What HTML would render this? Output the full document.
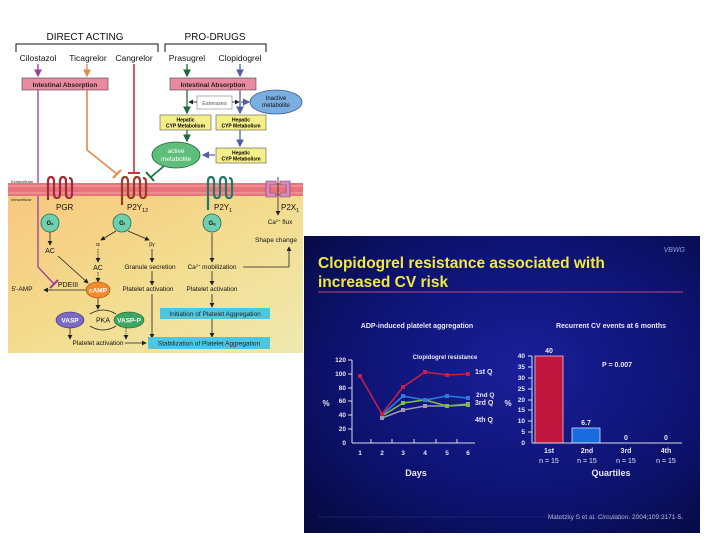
<!DOCTYPE html>
<html><head><meta charset="utf-8"><style>
html,body{margin:0;padding:0;background:#fff;width:720px;height:540px;overflow:hidden}
svg{display:block;font-family:"Liberation Sans",Arial,sans-serif}
</style></head><body>
<svg width="720" height="540" viewBox="0 0 720 540" xmlns="http://www.w3.org/2000/svg">
<defs>
<linearGradient id="beige" x1="0" y1="0" x2="1" y2="1">
<stop offset="0" stop-color="#f7c77e"/><stop offset="0.5" stop-color="#f3dc8e"/><stop offset="1" stop-color="#eee9b0"/>
</linearGradient>
<radialGradient id="navy" cx="0.55" cy="0.45" r="0.75">
<stop offset="0" stop-color="#1a1f9a"/><stop offset="0.6" stop-color="#0d1270"/><stop offset="1" stop-color="#060a40"/>
</radialGradient>
<marker id="ak" markerWidth="6" markerHeight="6" refX="5" refY="3" orient="auto"><path d="M0,0L6,3L0,6z" fill="#222"/></marker>
<marker id="ap" markerWidth="6" markerHeight="6" refX="5" refY="3" orient="auto"><path d="M0,0L6,3L0,6z" fill="#9b3c9b"/></marker>
<marker id="ao" markerWidth="6" markerHeight="6" refX="5" refY="3" orient="auto"><path d="M0,0L6,3L0,6z" fill="#e4894a"/></marker>
<marker id="ag" markerWidth="6" markerHeight="6" refX="5" refY="3" orient="auto"><path d="M0,0L6,3L0,6z" fill="#1e6a3a"/></marker>
<marker id="ab" markerWidth="6" markerHeight="6" refX="5" refY="3" orient="auto"><path d="M0,0L6,3L0,6z" fill="#5060a8"/></marker>
</defs>

<!-- LEFT PANEL -->
<rect x="8" y="190" width="295" height="163" fill="url(#beige)"/>
<g font-size="9" fill="#111">
<text x="85" y="40" text-anchor="middle" font-size="10">DIRECT ACTING</text>
<text x="215" y="40" text-anchor="middle" font-size="10">PRO-DRUGS</text>
<path d="M16,52V44H158V52M165,52V44H266V52" fill="none" stroke="#111" stroke-width="1"/>
<text x="38" y="61" text-anchor="middle" font-size="8.5">Cilostazol</text>
<text x="88" y="61" text-anchor="middle" font-size="8.5">Ticagrelor</text>
<text x="134" y="61" text-anchor="middle" font-size="8.5">Cangrelor</text>
<text x="187" y="61" text-anchor="middle" font-size="8.5">Prasugrel</text>
<text x="240" y="61" text-anchor="middle" font-size="8.5">Clopidogrel</text>
</g>
<line x1="38" y1="64" x2="38" y2="76" stroke="#9b3c9b" stroke-width="1.3" marker-end="url(#ap)"/>
<line x1="87" y1="64" x2="87" y2="76" stroke="#e4894a" stroke-width="1.3" marker-end="url(#ao)"/>
<line x1="187" y1="64" x2="187" y2="76" stroke="#1e6a3a" stroke-width="1.3" marker-end="url(#ag)"/>
<line x1="240" y1="64" x2="240" y2="76" stroke="#5060a8" stroke-width="1.3" marker-end="url(#ab)"/>
<rect x="22" y="78" width="86" height="12" fill="#e98aa0" stroke="#444" stroke-width="0.6"/>
<rect x="170" y="78" width="86" height="12" fill="#e98aa0" stroke="#444" stroke-width="0.6"/>
<text x="65" y="87" text-anchor="middle" font-size="6.5" font-weight="bold" fill="#222">Intestinal Absorption</text>
<text x="213" y="87" text-anchor="middle" font-size="6.5" font-weight="bold" fill="#222">Intestinal Absorption</text>
<!-- cangrelor red -->
<line x1="134" y1="64" x2="134" y2="172" stroke="#c8373c" stroke-width="1.6"/>
<line x1="128" y1="173" x2="140" y2="173" stroke="#c8373c" stroke-width="2"/>
<!-- ticagrelor orange -->
<path d="M87,90V150L117,174" fill="none" stroke="#e4894a" stroke-width="1.6"/>
<line x1="113" y1="178" x2="121" y2="170" stroke="#e4894a" stroke-width="2"/>
<!-- cilostazol purple -->
<path d="M38,90V267L54,284" fill="none" stroke="#9b3c9b" stroke-width="1.3"/>
<line x1="50" y1="288" x2="58" y2="280" stroke="#9b3c9b" stroke-width="2"/>
<!-- prodrugs -->
<line x1="187" y1="90" x2="187" y2="113" stroke="#1e6a3a" stroke-width="1.3" marker-end="url(#ag)"/>
<line x1="240" y1="90" x2="240" y2="113" stroke="#5060a8" stroke-width="1.3" marker-end="url(#ab)"/>
<rect x="197" y="96" width="35" height="13" fill="#fff" stroke="#666" stroke-width="0.5"/>
<text x="214.5" y="105" text-anchor="middle" font-size="5.5" fill="#555">Esterases</text>
<line x1="197" y1="102" x2="189" y2="102" stroke="#222" stroke-width="0.8" marker-end="url(#ak)"/>
<line x1="232" y1="102" x2="239" y2="102" stroke="#222" stroke-width="0.8" marker-end="url(#ak)"/>
<line x1="241" y1="102" x2="249" y2="102" stroke="#5060a8" stroke-width="1.2" marker-end="url(#ab)"/>
<ellipse cx="276" cy="102" rx="26" ry="12" fill="#7aaee0" stroke="#3a5a9a" stroke-width="0.8"/>
<text x="276" y="100" text-anchor="middle" font-size="6" fill="#111">Inactive</text>
<text x="276" y="107" text-anchor="middle" font-size="6" fill="#111">metabolite</text>
<rect x="160" y="115" width="51" height="15" fill="#f5ef8a" stroke="#555" stroke-width="0.6"/>
<rect x="216" y="115" width="50" height="15" fill="#f5ef8a" stroke="#555" stroke-width="0.6"/>
<text x="185.5" y="121.5" text-anchor="middle" font-size="5" font-weight="bold">Hepatic</text>
<text x="185.5" y="127.5" text-anchor="middle" font-size="5" font-weight="bold">CYP Metabolism</text>
<text x="241" y="121.5" text-anchor="middle" font-size="5" font-weight="bold">Hepatic</text>
<text x="241" y="127.5" text-anchor="middle" font-size="5" font-weight="bold">CYP Metabolism</text>
<line x1="187" y1="130" x2="187" y2="141" stroke="#1e6a3a" stroke-width="1.3" marker-end="url(#ag)"/>
<line x1="240" y1="130" x2="240" y2="146" stroke="#5060a8" stroke-width="1.3" marker-end="url(#ab)"/>
<rect x="216" y="148" width="50" height="15" fill="#f5ef8a" stroke="#555" stroke-width="0.6"/>
<text x="241" y="154.5" text-anchor="middle" font-size="5" font-weight="bold">Hepatic</text>
<text x="241" y="160.5" text-anchor="middle" font-size="5" font-weight="bold">CYP Metabolism</text>
<line x1="215" y1="155" x2="203" y2="155" stroke="#5060a8" stroke-width="1.2" marker-end="url(#ab)"/>
<ellipse cx="176" cy="155" rx="24" ry="13" fill="#5fbf7a" stroke="#1e6a3a" stroke-width="0.8"/>
<text x="176" y="153" text-anchor="middle" font-size="6.5" fill="#fff">active</text>
<text x="176" y="161" text-anchor="middle" font-size="6.5" fill="#fff">metabolite</text>
<line x1="164" y1="166" x2="151" y2="177" stroke="#1e6a3a" stroke-width="1.6"/>
<line x1="146" y1="172" x2="154" y2="181" stroke="#1e6a3a" stroke-width="2"/>
<!-- membrane -->
<rect x="8" y="183" width="295" height="13" fill="#e8737a"/>
<line x1="8" y1="186" x2="303" y2="186" stroke="#f4a9aa" stroke-width="1"/>
<line x1="8" y1="193" x2="303" y2="193" stroke="#f4a9aa" stroke-width="1"/>
<text x="11" y="183" font-size="4" fill="#222">Extracellular</text>
<text x="11" y="201" font-size="4" fill="#222">Intracellular</text>
<!-- receptors -->
<g fill="none" stroke-width="2.2">
<path d="M48,200V182q0,-5 3,-5t3,5v12q0,4 3,4t3,-4V182q0,-5 3,-5t3,5v12q0,4 3,4t3,-4V182q0,-4 -3,-4" stroke="#a02a3a"/>
<path d="M122,205V182q0,-5 3,-5t3,5v12q0,4 3,4t3,-4V182q0,-5 3,-5t3,5v12q0,4 3,4t3,-4V182q0,-4 -3,-4" stroke="#9a3a2a"/>
<path d="M208,210V182q0,-5 3,-5t3,5v12q0,4 3,4t3,-4V182q0,-5 3,-5t3,5v12q0,4 3,4t3,-4V182q0,-4 -3,-4" stroke="#1f7a6a"/>
</g>
<path d="M266,181h10v4h-6v8h6v4h-10z M290,181h-10v4h6v8h-6v4h10z" fill="#d78ac0" stroke="#7a3a6a" stroke-width="0.6"/>
<line x1="278" y1="177" x2="278" y2="215" stroke="#222" stroke-width="0.8" marker-end="url(#ak)"/>
<g font-size="8" fill="#111">
<text x="56" y="210">PGR</text>
<text x="127" y="210">P2Y<tspan font-size="5.5" dy="2">12</tspan></text>
<text x="214" y="210">P2Y<tspan font-size="5.5" dy="2">1</tspan></text>
<text x="281" y="210">P2X<tspan font-size="5.5" dy="2">1</tspan></text>
</g>
<g fill="#6fd0b0" stroke="#1f6a5a" stroke-width="0.8">
<circle cx="50" cy="223" r="9"/><circle cx="122" cy="223" r="9"/><circle cx="212" cy="223" r="9"/>
</g>
<g font-size="6" font-weight="bold" fill="#111" text-anchor="middle">
<text x="50" y="225">G<tspan font-size="4">s</tspan></text>
<text x="122" y="225">G<tspan font-size="4">i</tspan></text>
<text x="212" y="225">G<tspan font-size="4">q</tspan></text>
</g>
<g font-size="6.5" fill="#111" text-anchor="middle">
<text x="280" y="224">Ca<tspan font-size="4" dy="-2">2+</tspan><tspan dy="2"> flux</tspan></text>
<text x="276" y="242">Shape change</text>
<text x="50" y="253" font-size="7">AC</text>
<text x="98" y="246" font-size="5">α<tspan font-size="3.5">i</tspan></text>
<text x="98" y="270" font-size="7">AC</text>
<text x="152" y="246" font-size="5">βγ</text>
<text x="150" y="269">Granule secretion</text>
<text x="212" y="269">Ca<tspan font-size="4" dy="-2">2+</tspan><tspan dy="2"> mobilization</tspan></text>
<text x="68" y="287" font-size="7">PDEIII</text>
<text x="22" y="291">5'-AMP</text>
<text x="148" y="291">Platelet activation</text>
<text x="212" y="291">Platelet activation</text>
<text x="98" y="345">Platelet activation</text>
</g>
<g stroke="#222" stroke-width="0.8" fill="none">
<line x1="50" y1="232" x2="50" y2="245" marker-end="url(#ak)"/>
<line x1="58" y1="256" x2="88" y2="283" marker-end="url(#ak)"/>
<line x1="116" y1="231" x2="101" y2="240" marker-end="url(#ak)"/>
<line x1="128" y1="231" x2="149" y2="240" marker-end="url(#ak)"/>
<line x1="98" y1="249" x2="98" y2="262" stroke-dasharray="1.5,1" marker-end="url(#ak)"/>
<line x1="98" y1="272" x2="98" y2="282" stroke-dasharray="1.5,1" marker-end="url(#ak)"/>
<line x1="152" y1="249" x2="152" y2="262" marker-end="url(#ak)"/>
<line x1="152" y1="271" x2="152" y2="285" marker-end="url(#ak)"/>
<line x1="152" y1="294" x2="152" y2="338" marker-end="url(#ak)"/>
<line x1="212" y1="233" x2="212" y2="262" marker-end="url(#ak)"/>
<line x1="212" y1="271" x2="212" y2="285" marker-end="url(#ak)"/>
<line x1="212" y1="294" x2="212" y2="307" marker-end="url(#ak)"/>
<line x1="212" y1="319" x2="212" y2="337" marker-end="url(#ak)"/>
<path d="M243,267H289V247" marker-end="url(#ak)"/>
<line x1="86" y1="290" x2="44" y2="290" marker-end="url(#ak)"/>
<line x1="98" y1="297" x2="98" y2="309" marker-end="url(#ak)"/>
<line x1="70" y1="328" x2="70" y2="339" marker-end="url(#ak)"/>
<line x1="126" y1="328" x2="126" y2="339" stroke-dasharray="1.5,1" marker-end="url(#ak)"/>
<line x1="125" y1="343" x2="146" y2="343" marker-end="url(#ak)"/>
<path d="M90,314q13,-8 26,0M116,326q-13,8 -26,0"/>
</g>
<ellipse cx="98" cy="290" rx="12" ry="8" fill="#f08a2a" stroke="#a04a10" stroke-width="0.6"/>
<text x="98" y="292.5" text-anchor="middle" font-size="6.5" fill="#fff" font-weight="bold">cAMP</text>
<ellipse cx="70" cy="320" rx="14" ry="8" fill="#7a6ac0" stroke="#3a2a80" stroke-width="0.6"/>
<text x="70" y="322.5" text-anchor="middle" font-size="6.5" fill="#fff" font-weight="bold">VASP</text>
<text x="103" y="322.5" text-anchor="middle" font-size="7" fill="#111">PKA</text>
<ellipse cx="129" cy="320" rx="15" ry="8" fill="#3aa860" stroke="#1a5a30" stroke-width="0.6"/>
<text x="129" y="322.5" text-anchor="middle" font-size="6.5" fill="#fff" font-weight="bold">VASP-P</text>
<rect x="160" y="308" width="110" height="11" fill="#4fc6e0"/>
<text x="215" y="316" text-anchor="middle" font-size="6.5" fill="#222">Initiation of Platelet Aggregation</text>
<rect x="148" y="337" width="122" height="12" fill="#4fc6e0"/>
<text x="209" y="345.5" text-anchor="middle" font-size="6.5" fill="#222">Stabilization of Platelet Aggregation</text>

<!-- RIGHT PANEL -->
<rect x="304" y="236" width="396" height="297" fill="url(#navy)"/>
<text x="685" y="252" text-anchor="end" font-size="7" font-style="italic" fill="#8fa0e0">VBWG</text>
<g font-size="15.5" font-weight="bold" fill="#f2ea3a">
<text x="318" y="268">Clopidogrel resistance associated with</text>
<text x="318" y="287">increased CV risk</text>
</g>
<line x1="318" y1="292" x2="683" y2="292" stroke="#a03a7a" stroke-width="1.2"/>
<g fill="#e8e8f0" font-size="7" font-weight="bold">
<text x="417" y="328" text-anchor="middle">ADP-induced platelet aggregation</text>
<text x="611" y="328" text-anchor="middle">Recurrent CV events at 6 months</text>
</g>
<!-- line chart -->
<g stroke="#ddd" stroke-width="1">
<line x1="352" y1="360" x2="352" y2="443"/>
<line x1="352" y1="443" x2="475" y2="443"/>
<line x1="348" y1="360" x2="352" y2="360"/><line x1="348" y1="374" x2="352" y2="374"/>
<line x1="348" y1="388" x2="352" y2="388"/><line x1="348" y1="401" x2="352" y2="401"/>
<line x1="348" y1="415" x2="352" y2="415"/><line x1="348" y1="429" x2="352" y2="429"/>
<line x1="371" y1="443" x2="371" y2="439"/><line x1="392" y1="443" x2="392" y2="439"/>
<line x1="414" y1="443" x2="414" y2="439"/><line x1="436" y1="443" x2="436" y2="439"/>
<line x1="457" y1="443" x2="457" y2="439"/>
</g>
<g fill="#e8e8f0" font-size="6.5" font-weight="bold" text-anchor="end">
<text x="346" y="362">120</text><text x="346" y="376">100</text><text x="346" y="390">80</text>
<text x="346" y="403">60</text><text x="346" y="417">40</text><text x="346" y="431">20</text><text x="346" y="445">0</text>
</g>
<g fill="#e8e8f0" font-size="6.5" font-weight="bold" text-anchor="middle">
<text x="360" y="455">1</text><text x="382" y="455">2</text><text x="403" y="455">3</text>
<text x="425" y="455">4</text><text x="447" y="455">5</text><text x="468" y="455">6</text>
<text x="416" y="476" font-size="9">Days</text>
<text x="326" y="406" font-size="8">%</text>
<text x="445" y="359" font-size="6">Clopidogrel resistance</text>
</g>
<g fill="#e8e8f0" font-size="7" font-weight="bold">
<text x="475" y="374">1st Q</text><text x="476" y="397" font-size="6.5">2nd Q</text>
<text x="475" y="405">3rd Q</text><text x="475" y="422">4th Q</text>
</g>
<g fill="none" stroke-width="1.6">
<polyline points="382,418 403,410 425,406 447,406 468,404" stroke="#9a9ab0"/>
<polyline points="382,416 403,403 425,400 447,406 468,405" stroke="#7ac040"/>
<polyline points="382,415 403,396 425,400 447,396 468,398" stroke="#2a7ae0"/>
<polyline points="360,376 382,414 403,387 425,372 447,375 468,374" stroke="#c0204a"/>
</g>
<g fill="#9a9ab0"><rect x="380" y="416" width="4" height="4"/><rect x="401" y="408" width="4" height="4"/><rect x="423" y="404" width="4" height="4"/><rect x="445" y="404" width="4" height="4"/><rect x="466" y="402" width="4" height="4"/></g>
<g fill="#7ac040"><rect x="401" y="401" width="4" height="4"/><rect x="445" y="404" width="4" height="4"/><rect x="466" y="403" width="4" height="4"/></g>
<g fill="#2a7ae0"><rect x="401" y="394" width="4" height="4"/><rect x="423" y="398" width="4" height="4"/><rect x="445" y="394" width="4" height="4"/><rect x="466" y="396" width="4" height="4"/></g>
<g fill="#c0204a"><rect x="358" y="374" width="4" height="4"/><rect x="380" y="412" width="4" height="4"/><rect x="401" y="385" width="4" height="4"/><rect x="423" y="370" width="4" height="4"/><rect x="445" y="373" width="4" height="4"/><rect x="466" y="372" width="4" height="4"/></g>
<!-- bar chart -->
<rect x="535" y="356" width="28" height="87" fill="#c0163e" stroke="#f0c0d0" stroke-width="0.8"/>
<rect x="572" y="428" width="28" height="15" fill="#1a6ae0" stroke="#d0e0ff" stroke-width="0.8"/>
<g stroke="#ddd" stroke-width="1">
<line x1="532" y1="356" x2="532" y2="443"/><line x1="532" y1="443" x2="682" y2="443"/>
<line x1="528" y1="356" x2="532" y2="356"/><line x1="528" y1="367" x2="532" y2="367"/>
<line x1="528" y1="378" x2="532" y2="378"/><line x1="528" y1="389" x2="532" y2="389"/>
<line x1="528" y1="400" x2="532" y2="400"/><line x1="528" y1="410" x2="532" y2="410"/>
<line x1="528" y1="421" x2="532" y2="421"/><line x1="528" y1="432" x2="532" y2="432"/>
</g>
<g fill="#e8e8f0" font-size="6.5" font-weight="bold" text-anchor="end">
<text x="525" y="358">40</text><text x="525" y="369">35</text><text x="525" y="380">30</text>
<text x="525" y="391">25</text><text x="525" y="402">20</text><text x="525" y="412">15</text>
<text x="525" y="423">10</text><text x="525" y="434">5</text><text x="525" y="445">0</text>
</g>
<g fill="#e8e8f0" font-size="7" font-weight="bold" text-anchor="middle">
<text x="549" y="353">40</text><text x="586" y="425">6.7</text>
<text x="626" y="440">0</text><text x="666" y="440">0</text>
<text x="617" y="367">P = 0.007</text>
<text x="508" y="406" font-size="8">%</text>
</g>
<g fill="#e8e8f0" font-size="7" text-anchor="middle">
<text x="549" y="453" font-weight="bold">1st</text><text x="587" y="453" font-weight="bold">2nd</text>
<text x="626" y="453" font-weight="bold">3rd</text><text x="666" y="453" font-weight="bold">4th</text>
<text x="549" y="463">n = 15</text><text x="587" y="463">n = 15</text>
<text x="626" y="463">n = 15</text><text x="666" y="463">n = 15</text>
<text x="611" y="476" font-size="9" font-weight="bold">Quartiles</text>
</g>
<text x="683" y="519" text-anchor="end" font-size="6.5" fill="#c8c8d8">Matetzky S et al. <tspan font-style="italic">Circulation</tspan>. 2004;109:3171-5.</text>
<line x1="318" y1="517" x2="683" y2="517" stroke="#2a3090" stroke-width="0.6"/>
</svg>
</body></html>
